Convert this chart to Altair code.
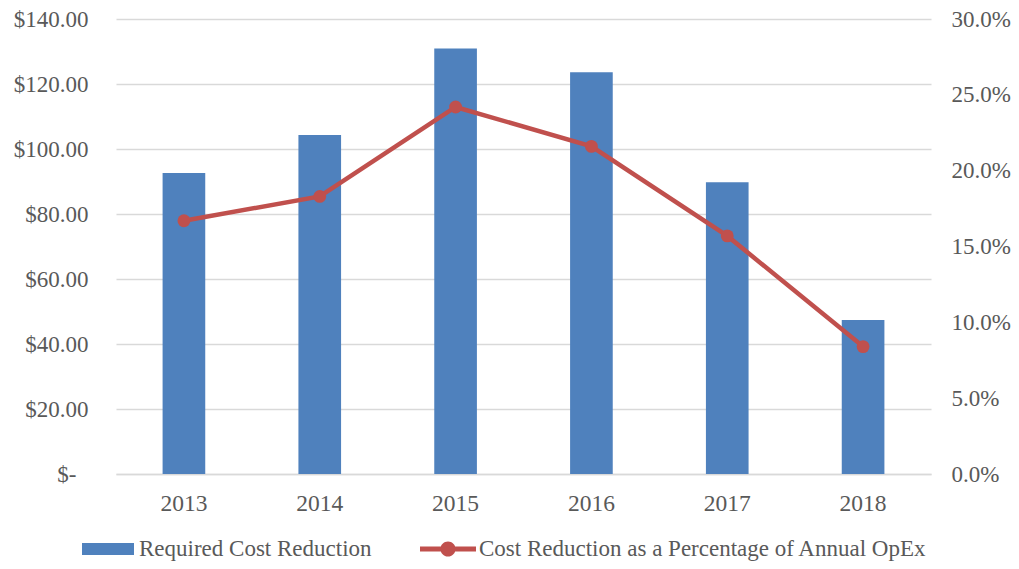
import altair as alt
import pandas as pd

years = ["2013", "2014", "2015", "2016", "2017", "2018"]
cost_reduction = [92.6, 104.3, 130.9, 123.6, 89.8, 47.4]
pct_of_opex = [0.167, 0.183, 0.242, 0.216, 0.157, 0.084]
bar_series = "Required Cost Reduction"
line_series = "Cost Reduction as a Percentage of Annual OpEx"
left_ticks = [0, 20, 40, 60, 80, 100, 120, 140]
right_ticks = [0.0, 0.05, 0.10, 0.15, 0.20, 0.25, 0.30]

df = pd.DataFrame({
    "year": years,
    "cost": cost_reduction,
    "pct": pct_of_opex,
    "s1": bar_series,
    "s2": line_series,
})

BLUE = "#4F81BD"
RED = "#C0504D"
TXT = "#595959"
GRID = "#D9D9D9"
FONT = "Liberation Serif"
FS = 23.5
YFS = 23
RFS = 23
LFS = 23

rect_path = "M-1,-0.23H1V0.23H-1Z"
line_path = ("M-1,-0.085H1V0.085H-1Z "
             "M0.27,0A0.27,0.27,0,1,1,-0.27,0A0.27,0.27,0,1,1,0.27,0Z")

xenc = alt.X("year:O", title=None,
             scale=alt.Scale(paddingInner=0.686, paddingOuter=0.343),
             axis=alt.Axis(labelAngle=0, ticks=False, domain=True, domainColor=GRID,
                           domainWidth=1.3, labelPadding=17, labelFontSize=FS,
                           labelFont=FONT, labelColor=TXT))

bars = alt.Chart(df).mark_bar(color=BLUE).encode(
    x=xenc,
    y=alt.Y("cost:Q", title=None,
            scale=alt.Scale(domain=[0, 140], nice=False),
            axis=alt.Axis(values=left_ticks, orient="left", domain=False, ticks=False,
                          grid=True, gridColor=GRID, gridWidth=1.3,
                          labelPadding={"condition": {"test": "datum.value == 0", "value": 40},
                                        "value": 28},
                          labelFontSize=YFS, labelFont=FONT,
                          labelColor=TXT,
                          labelExpr="datum.value == 0 ? '$-' : '$' + format(datum.value, '.2f')")),
    fill=alt.Fill("s1:N", scale=alt.Scale(domain=[bar_series], range=[BLUE]),
                  legend=alt.Legend(title=None, orient="none", legendX=-34, legendY=504,
                                    symbolType=rect_path, symbolSize=2704,
                                    symbolStrokeWidth=0, labelOffset=5, padding=0,
                                    labelLimit=1000,
                                    labelFontSize=LFS, labelFont=FONT, labelColor=TXT)),
)

yright = alt.Y("pct:Q", title=None,
               scale=alt.Scale(domain=[0, 0.3], nice=False),
               axis=alt.Axis(values=right_ticks, orient="right", format=".1%",
                             domain=False, ticks=False, grid=False, labelPadding=20,
                             labelFontSize=RFS, labelFont=FONT, labelColor=TXT))

line = alt.Chart(df).mark_line(color=RED, strokeWidth=4.5, strokeCap="round").encode(
    x=alt.X("year:O"),
    y=yright,
)

points = alt.Chart(df).mark_point(filled=True, size=165, opacity=1).encode(
    x=alt.X("year:O"),
    y=alt.Y("pct:Q"),
    color=alt.Color("s2:N", scale=alt.Scale(domain=[line_series], range=[RED]),
                    legend=alt.Legend(title=None, orient="none", legendX=304, legendY=502,
                                      symbolType=line_path, symbolSize=3136,
                                      symbolStrokeWidth=0, labelOffset=3, padding=0,
                                      labelLimit=1000,
                                      labelFontSize=LFS, labelFont=FONT, labelColor=TXT)),
)

right = alt.layer(line, points)

chart = alt.layer(bars, right).resolve_scale(y="independent").properties(
    width=815,
    height=455,
    padding={"left": 108, "top": 11, "right": 80, "bottom": 87},
    autosize=alt.AutoSizeParams(type="none"),
).configure_view(stroke=None)

chart.save("out.html", embed_options={"renderer": "svg", "actions": False})
